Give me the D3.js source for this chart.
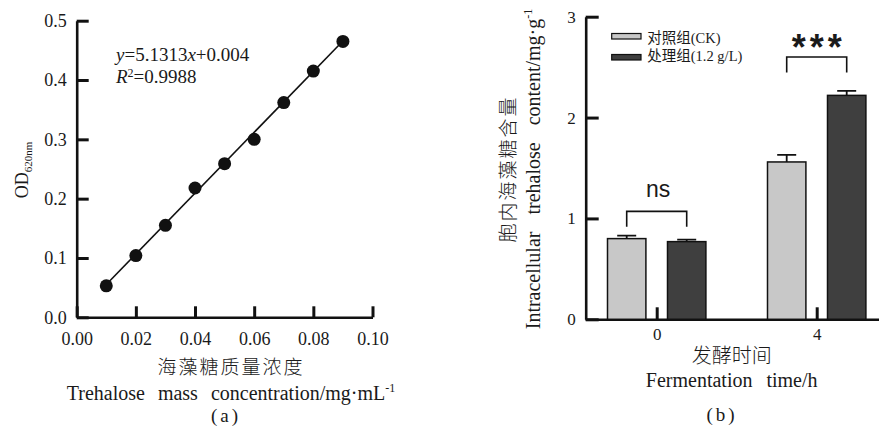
<!DOCTYPE html>
<html lang="zh">
<head>
<meta charset="UTF-8">
<script src="https://d3js.org/d3.v7.min.js"></script>
<style>
  body { margin: 0; background: #fff; }
  svg text { font-family: "Liberation Serif", "Times New Roman", "Noto Sans CJK SC", serif; fill: #1a1a1a; }
  svg text.cjk { font-family: "Noto Sans CJK SC", sans-serif; font-weight: 300; }
  .axis path, .axis line { stroke: #111; }
</style>
</head>
<body>
<svg id="chart" width="879" height="430"></svg>
<script>
// ---- (a) standard curve ----
var concX = [0.01, 0.02, 0.03, 0.04, 0.05, 0.06, 0.07, 0.08, 0.09];
var odY = [0.053, 0.104, 0.155, 0.218, 0.259, 0.300, 0.362, 0.415, 0.465];
var fitSlope = 5.1313, fitIntercept = 0.004, fitR2 = 0.9988;
var xTicksA = [0, 0.02, 0.04, 0.06, 0.08, 0.10];
var yTicksA = [0, 0.1, 0.2, 0.3, 0.4, 0.5];

// ---- (b) trehalose content ----
var times = ["0", "4"];
var groupNames = ["对照组(CK)", "处理组(1.2 g/L)"];
var ckValues = [0.80, 1.56];
var ckErrors = [0.03, 0.07];
var trValues = [0.77, 2.22];
var trErrors = [0.02, 0.045];
var sigLabels = ["ns", "***"];
var sigLevels = [1.07, 2.60];
var yTicksB = [0, 1, 2, 3];

var svg = d3.select("#chart");
svg.append("rect").attr("width", 879).attr("height", 430).attr("fill", "#fff");

// ================= panel (a) =================
var xA = d3.scaleLinear().domain([0, 0.1]).range([76.7, 372.5]);
var yA = d3.scaleLinear().domain([0, 0.5]).range([317.3, 20.7]);

var gxA = svg.append("g").attr("class", "axis")
  .attr("transform", "translate(0," + yA(0) + ")")
  .call(d3.axisBottom(xA).tickValues(xTicksA).tickFormat(d3.format(".2f"))
    .tickSize(-11).tickSizeOuter(0).tickPadding(15));
var gyA = svg.append("g").attr("class", "axis")
  .attr("transform", "translate(" + xA(0) + ",0)")
  .call(d3.axisLeft(yA).tickValues(yTicksA).tickFormat(d3.format(".1f"))
    .tickSize(-12).tickSizeOuter(0).tickPadding(10));
[gxA, gyA].forEach(function (g) {
  g.select(".domain").attr("stroke-width", 2.6);
  g.selectAll(".tick line").attr("stroke-width", 3);
  g.selectAll(".tick text").attr("font-size", 18).attr("fill", "#1a1a1a");
});

// fit line
svg.append("line")
  .attr("x1", xA(concX[0])).attr("y1", yA(fitSlope * concX[0] + fitIntercept))
  .attr("x2", xA(concX[concX.length - 1])).attr("y2", yA(fitSlope * concX[concX.length - 1] + fitIntercept))
  .attr("stroke", "#111").attr("stroke-width", 1.6);

svg.append("g").selectAll("circle").data(concX).enter().append("circle")
  .attr("cx", function (d) { return xA(d); })
  .attr("cy", function (d, i) { return yA(odY[i]); })
  .attr("r", 6.5)
  .attr("fill", "#111");

// equation
var eq = svg.append("text").attr("x", 116).attr("y", 60.7).attr("font-size", 19);
eq.append("tspan").attr("font-style", "italic").text("y");
eq.append("tspan").text("=" + fitSlope);
eq.append("tspan").attr("font-style", "italic").text("x");
eq.append("tspan").text("+" + fitIntercept);
var r2 = svg.append("text").attr("x", 116).attr("y", 82.7).attr("font-size", 19);
r2.append("tspan").attr("font-style", "italic").text("R");
r2.append("tspan").attr("font-size", 12).attr("dy", -6).text("2");
r2.append("tspan").attr("dy", 6).text("=" + fitR2);

// y title (a)
var odLab = svg.append("text")
  .attr("transform", "translate(28,170) rotate(-90)")
  .attr("text-anchor", "middle").attr("font-size", 18);
odLab.append("tspan").text("OD");
odLab.append("tspan").attr("font-size", 11).attr("dy", 4).text("620nm");

// x titles (a)
svg.append("text").attr("class", "cjk").attr("x", 231).attr("y", 374).attr("text-anchor", "middle")
  .attr("font-size", 19).attr("letter-spacing", 2).text("海藻糖质量浓度");
var enA = svg.append("text").attr("x", 231).attr("y", 400).attr("text-anchor", "middle")
  .attr("font-size", 20).attr("word-spacing", 8);
enA.append("tspan").text("Trehalose mass concentration/mg·mL");
enA.append("tspan").attr("font-size", 12).attr("dy", -8).text("-1");
svg.append("text").attr("x", 226).attr("y", 422).attr("text-anchor", "middle")
  .attr("font-size", 19).attr("letter-spacing", 3).text("(a)");

// ================= panel (b) =================
var xB = d3.scalePoint().domain(times).range([656.7, 816.7]);
var yB = d3.scaleLinear().domain([0, 3]).range([319.3, 16.7]);
var offset = d3.scalePoint().domain(groupNames).range([-30, 30]);
var barW = 38.4;
var fills = ["#c8c8c8", "#3f3f3f"];

var gyB = svg.append("g").attr("class", "axis")
  .attr("transform", "translate(585.7,0)")
  .call(d3.axisLeft(yB).tickValues(yTicksB).tickFormat(d3.format("d"))
    .tickSize(-13).tickSizeOuter(0).tickPadding(10));
var gxB = svg.append("g").attr("class", "axis")
  .attr("transform", "translate(0," + yB(0) + ")")
  .call(d3.axisBottom(xB).tickSize(-12).tickSizeOuter(0).tickPadding(9));
gxB.select(".domain").remove();
gxB.append("line").attr("x1", 585.7).attr("x2", 879).attr("y1", 0.5).attr("y2", 0.5)
  .attr("stroke", "#111").attr("stroke-width", 2.6);
[gxB, gyB].forEach(function (g) {
  g.select(".domain").attr("stroke-width", 2.6);
  g.selectAll(".tick line").attr("stroke-width", 3);
  g.selectAll(".tick text").attr("font-size", 17).attr("fill", "#1a1a1a");
});

var barData = [];
times.forEach(function (t, i) {
  barData.push({ t: t, g: groupNames[0], v: ckValues[i], e: ckErrors[i], c: 0 });
  barData.push({ t: t, g: groupNames[1], v: trValues[i], e: trErrors[i], c: 1 });
});

var bars = svg.append("g");
// error bars (upper only)
bars.selectAll(".err").data(barData).enter().append("path")
  .attr("d", function (d) {
    var cx = xB(d.t) + offset(d.g);
    return "M" + cx + "," + yB(d.v) + "V" + yB(d.v + d.e) + "M" + (cx - 9.5) + "," + yB(d.v + d.e) + "H" + (cx + 9.5);
  })
  .attr("stroke", "#111").attr("stroke-width", 1.8).attr("fill", "none");
bars.selectAll("rect").data(barData).enter().append("rect")
  .attr("x", function (d) { return xB(d.t) + offset(d.g) - barW / 2; })
  .attr("y", function (d) { return yB(d.v); })
  .attr("width", barW)
  .attr("height", function (d) { return yB(0) - yB(d.v); })
  .attr("fill", function (d) { return fills[d.c]; })
  .attr("stroke", "#111").attr("stroke-width", 1.5);

// significance brackets
times.forEach(function (t, i) {
  var x1 = xB(t) + offset(groupNames[0]), x2 = xB(t) + offset(groupNames[1]);
  var top = yB(sigLevels[i]);
  svg.append("path")
    .attr("d", "M" + x1 + "," + (top + 15.5) + "V" + top + "H" + x2 + "V" + (top + 15.5))
    .attr("fill", "none").attr("stroke", "#111").attr("stroke-width", 1.6);
  var lab = svg.append("text")
    .attr("text-anchor", "middle")
    .style("font-family", "'Liberation Sans', Arial, sans-serif")
    .text(sigLabels[i]);
  if (sigLabels[i] === "ns") {
    lab.attr("x", (x1 + x2) / 2 + 1.5).attr("y", top - 14).attr("font-size", 23);
  } else {
    lab.attr("x", (x1 + x2) / 2 + 2).attr("y", top + 2.5).attr("font-size", 36)
      .attr("font-weight", "bold").attr("letter-spacing", 4);
  }
});

// legend
var leg = svg.append("g").selectAll("g").data(groupNames).enter().append("g")
  .attr("transform", function (d, i) { return "translate(611.7," + (33.5 + i * 21) + ")"; });
leg.append("rect").attr("width", 29.3).attr("height", 5.5)
  .attr("fill", function (d, i) { return fills[i]; })
  .attr("stroke", "#111").attr("stroke-width", 1.2);
leg.append("text").attr("x", 35.6).attr("y", function (d, i) { return i === 0 ? 9.2 : 6.5; })
  .attr("font-size", 14.5).text(function (d) { return d; });

// y title (b)
var yTitleB = svg.append("g").attr("transform", "translate(0,169)");
yTitleB.append("text").attr("class", "cjk").attr("transform", "translate(514.7,0) rotate(-90)")
  .attr("text-anchor", "middle").attr("font-size", 19).attr("letter-spacing", 2)
  .text("胞内海藻糖含量");
var enB = yTitleB.append("text").attr("transform", "translate(540,0) rotate(-90)")
  .attr("text-anchor", "middle").attr("font-size", 20).attr("word-spacing", 12);
enB.append("tspan").text("Intracellular trehalose content/mg·g");
enB.append("tspan").attr("font-size", 12).attr("dy", -8).text("-1");

// x titles (b)
svg.append("text").attr("class", "cjk").attr("x", 731.7).attr("y", 363).attr("text-anchor", "middle")
  .attr("font-size", 20).text("发酵时间");
svg.append("text").attr("x", 731.7).attr("y", 386.7).attr("text-anchor", "middle")
  .attr("font-size", 20).attr("word-spacing", 9).text("Fermentation time/h");
svg.append("text").attr("x", 722).attr("y", 420.7).attr("text-anchor", "middle")
  .attr("font-size", 19).attr("letter-spacing", 3).text("(b)");
</script>
</body>
</html>
